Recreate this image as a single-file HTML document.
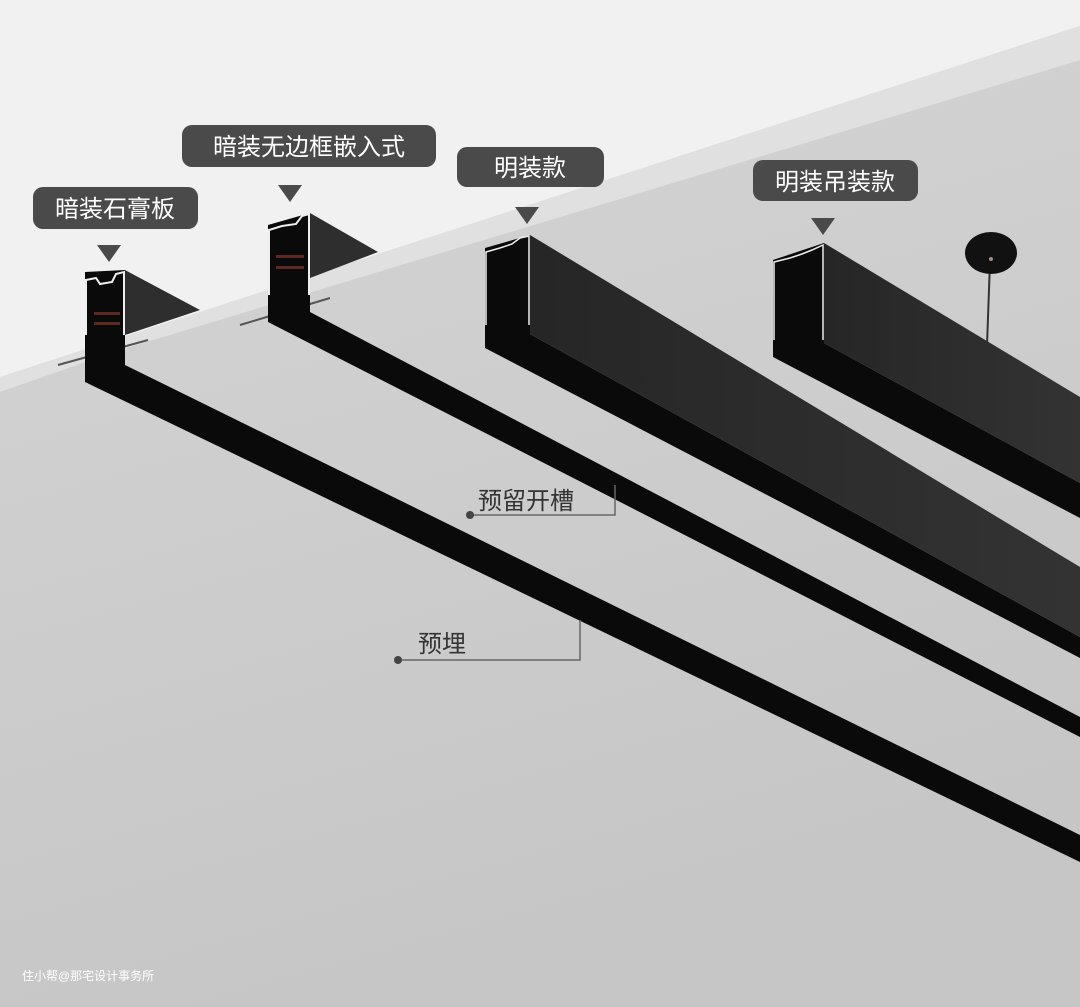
<!DOCTYPE html>
<html><head><meta charset="utf-8"><style>
html,body{margin:0;padding:0;width:1080px;height:1007px;overflow:hidden;background:#d0d0d0}
svg{display:block}
text{font-family:"Liberation Sans","Noto Sans CJK SC",sans-serif}
</style></head><body>
<svg width="1080" height="1007" viewBox="0 0 1080 1007" xmlns="http://www.w3.org/2000/svg">
<defs>
<linearGradient id="fl" x1="0" y1="0" x2="0.3" y2="1">
<stop offset="0" stop-color="#d6d6d6"/><stop offset="1" stop-color="#c6c6c6"/></linearGradient>
<linearGradient id="sd" x1="0" y1="0" x2="1" y2="0">
<stop offset="0" stop-color="#262626"/><stop offset="1" stop-color="#333"/></linearGradient>
</defs>
<rect width="1080" height="1007" fill="url(#fl)"/>
<polygon points="0,0 1080,0 1080,26 0,377" fill="#f1f1f1"/>
<polygon points="0,377 1080,26 1080,60 120,350 0,392" fill="#e0e0e0"/>
<!-- parts above ceiling -->
<polygon points="125,270 200,310 125,335" fill="#2e2e2e"/>
<polygon points="310,213 378,252 310,278" fill="#2e2e2e"/>
<line x1="58" y1="365" x2="148" y2="340" stroke="#555" stroke-width="2"/>
<line x1="240" y1="325" x2="330" y2="298" stroke="#555" stroke-width="2"/>
<!-- track 1 -->
<polygon points="85,272 125,270 125,365 1080,835 1080,862 85,382" fill="#0a0a0a"/>
<g fill="none" stroke="#eee" stroke-width="2">
<polyline points="86,335 86,280 96,278 100,284 112,282 116,274 124,272 124,335"/>
</g>
<rect x="94" y="312" width="26" height="3" fill="#5a2a22"/><rect x="94" y="322" width="26" height="3" fill="#5a2a22"/>
<!-- track 2 -->
<polygon points="268,225 310,213 310,312 1080,717 1080,737 268,322" fill="#0a0a0a"/>
<g fill="none" stroke="#eee" stroke-width="2">
<polyline points="269,295 269,230 282,226 296,224 302,216 309,214 309,295"/>
</g>
<rect x="276" y="255" width="28" height="3" fill="#5a2a22"/><rect x="276" y="266" width="28" height="3" fill="#5a2a22"/>
<!-- track 3 -->
<polygon points="485,248 530,235 530,334 1080,637 1080,658 485,348" fill="#0a0a0a"/>
<polygon points="530,235 1080,567 1080,637 530,334" fill="url(#sd)"/>
<g fill="none" stroke="#eee" stroke-width="1.5">
<polyline points="486,325 486,252 500,248 512,244 520,238 529,236 529,325"/>
</g>
<!-- pendant -->
<line x1="990" y1="262" x2="987" y2="345" stroke="#333" stroke-width="2"/>
<ellipse cx="991" cy="253" rx="26" ry="21" fill="#111"/>
<circle cx="991" cy="259" r="2" fill="#a88"/>
<!-- track 4 -->
<polygon points="773,260 824,243 824,343 1080,483 1080,518 773,357" fill="#0a0a0a"/>
<polygon points="824,243 1080,397 1080,483 824,343" fill="url(#sd)"/>
<g fill="none" stroke="#eee" stroke-width="1.5">
<polyline points="774,340 774,262 790,258 802,254 812,250 823,245 823,340"/>
</g>
<!-- labels -->
<g fill="#4a4a4a">
<rect x="33" y="187" width="165" height="42" rx="10"/>
<polygon points="97,245 121,245 109,262"/>
<rect x="182" y="125" width="254" height="42" rx="10"/>
<polygon points="278,185 302,185 290,202"/>
<rect x="457" y="147" width="147" height="40" rx="10"/>
<polygon points="515,207 539,207 527,224"/>
<rect x="753" y="160" width="165" height="41" rx="10"/>
<polygon points="811,218 835,218 823,235"/>
</g>
<g fill="#fff" font-size="24" text-anchor="middle">
<text x="115" y="217">暗装石膏板</text>
<text x="309" y="155">暗装无边框嵌入式</text>
<text x="530" y="176">明装款</text>
<text x="835" y="190">明装吊装款</text>
</g>
<!-- callouts -->
<polyline points="470,515 615,515 615,485" fill="none" stroke="#666" stroke-width="1.5"/>
<circle cx="470" cy="515" r="4" fill="#444"/>
<text x="478" y="509" font-size="24" fill="#333">预留开槽</text>
<polyline points="398,660 580,660 580,620" fill="none" stroke="#666" stroke-width="1.5"/>
<circle cx="398" cy="660" r="4" fill="#444"/>
<text x="418" y="652" font-size="24" fill="#333">预埋</text>
<text x="22" y="980" font-size="12" fill="#fff">住小帮@那宅设计事务所</text>
</svg>
</body></html>
